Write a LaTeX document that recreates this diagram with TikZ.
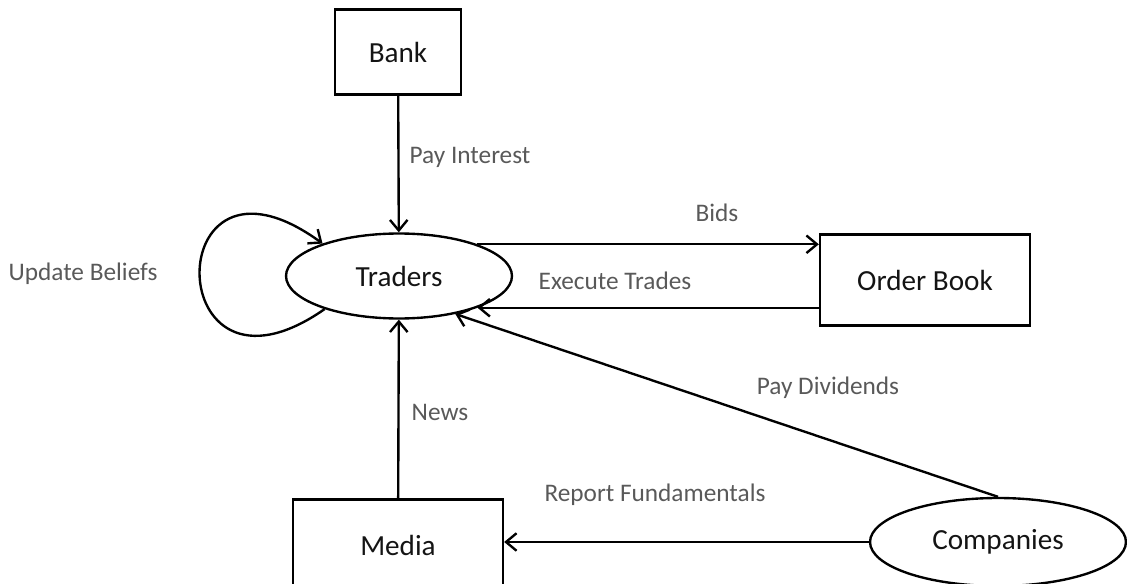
\documentclass[tikz,border=0pt]{standalone}
\usepackage{fontspec}
\setmainfont{Carlito}
\usepackage{xcolor}
\usepackage{tikz}
\usetikzlibrary{shapes,shapes.geometric}
\usetikzlibrary{calc,arrows.meta,positioning}
\definecolor{lblgray}{HTML}{595959}
\definecolor{txtdark}{HTML}{141414}
\tikzset{
  box/.style={draw, rectangle, line width=1.35pt, text=txtdark, minimum width=4.2cm, minimum height=1.82cm, font=\fontsize{16.6}{19}\selectfont},
  ellip/.style={draw, ellipse, line width=1.35pt, inner sep=0pt, text=txtdark, font=\fontsize{16.6}{19}\selectfont},
  lbl/.style={text=lblgray, font=\fontsize{14.4}{17}\selectfont},
  flow/.style={line width=1.35pt, -{Straight Barb[length=6pt,width=10pt,line width=1.35pt]}}
}
\begin{document}
\begin{tikzpicture}[x=0.02cm, y=0.02cm]
  \clip (0,0) rectangle (1127,583);
  % actors
  \node[box, minimum width=2.52cm, minimum height=1.7cm] (bank) at (398,531) {Bank};
  \node[ellip, minimum width=4.52cm, minimum height=1.7cm] (tr) at (399,307) {Traders};
  \node[box] (ob) at (925,303) {Order Book};
  \node[box] (me) at (398,38) {Media};
  \node[ellip, minimum width=5.12cm, minimum height=1.76cm] (co) at (998,41) {Companies};
  % labels
  \node[lbl] (lint) at (470,426) {Pay Interest};
  \node[lbl] (lbid) at (717,370) {Bids};
  \node[lbl] (lexe) at (615,302) {Execute Trades};
  \node[lbl] (lupd) at (83,309) {Update Beliefs};
  \node[lbl] (ldiv) at (828,195) {Pay Dividends};
  \node[lbl] (lnew) at (440,171) {News};
  \node[lbl] (lrep) at (655,88) {Report Fundamentals};
  % flows
  \draw[flow] (bank) -- (tr);
  \draw[flow] (tr.22) -- (tr.22 -| ob.west);
  \draw[flow] (ob.west |- tr.-22) -- (tr.-22);
  \draw[flow] (me) -- (tr);
  \draw[flow] (co.north) -- (tr.-34);
  \draw[flow] (co.west) -- (co.west -| me.east);
  \draw[flow] (tr.204) .. controls +(-165,-115) and +(-165,120) .. (tr.157);
\end{tikzpicture}
\end{document}
